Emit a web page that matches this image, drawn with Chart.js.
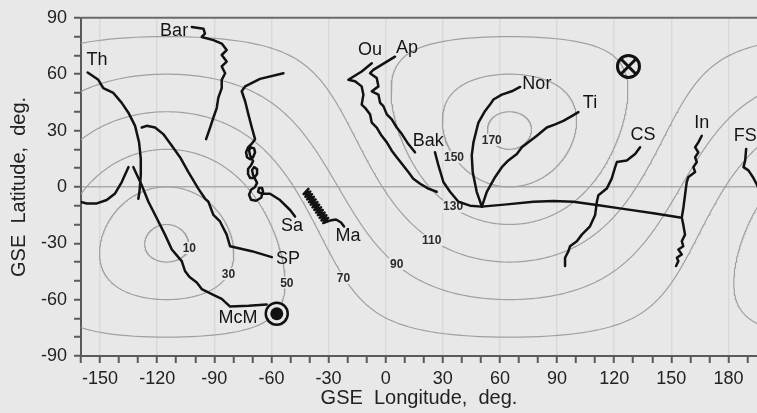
<!DOCTYPE html>
<html>
<head>
<meta charset="utf-8">
<script src="https://cdn.jsdelivr.net/npm/chart.js@4/dist/chart.umd.min.js"></script>
<style>
  html, body { margin: 0; padding: 0; background: #e8e8e8; overflow: hidden; }
  canvas { display: block; }
</style>
</head>
<body>
<canvas id="c" width="757" height="413"></canvas>
<script>
// ---- Angular-distance contours (degrees from the reference direction) ----
const contourCenter = [-115, -30];            // GSE lon, lat
const contourLevels = [10, 30, 50, 70, 90, 110, 130, 150, 170];
const levelLabelLon = [-103.1, -82.6, -51.9, -22.2, 5.8, 24.2, 35.4, 35.9, 55.7];
const levelLabelLat = [-32.5, -46.3, -51.0, -48.4, -41.0, -28.4, -10.5, 15.8, 25.0];

// ---- Station tracks, [lon, lat] in GSE degrees ----
const thTrack = [[-156.5,60.9],[-150.9,57.0],[-148.3,52.6],[-143.0,50.0],[-138.6,44.7],[-135.1,39.5],
  [-131.6,32.5],[-129.5,23.7],[-128.6,14.9],[-128.6,6.2],[-129.3,-2.6],[-129.9,-6.3]];
const westTrack = [[-160.5,-7.9],[-157.0,-8.8],[-151.7,-8.8],[-146.5,-7.0],[-142.1,-3.5],[-138.6,2.6],[-135.1,10.5]];
const mcmTrack = [[-62.5,-62.6],[-72.0,-63.3],[-81.7,-63.7],[-86.1,-59.6],[-90.5,-57.5],[-96.6,-54.4],[-99.2,-50.9],
  [-103.0,-48.0],[-105.4,-44.7],[-107.1,-39.5],[-112.3,-33.3],[-115.9,-25.4],[-120.2,-16.7],[-124.6,-7.9],
  [-128.1,0.9],[-132.5,10.5]];
const spTrack = [[-128.1,31.6],[-125.5,32.5],[-121.1,31.6],[-116.8,28.1],[-112.3,21.9],[-108.0,15.8],[-103.6,7.9],
  [-98.4,-0.9],[-94.9,-6.2],[-93.1,-7.9],[-90.5,-14.9],[-87.0,-18.4],[-83.5,-25.4],[-81.7,-31.6],
  [-70.3,-34.2],[-59.8,-37.4]];
const barTrack = [[-101.8,85.1],[-95.7,84.2],[-94.9,81.6],[-96.6,79.8],[-90.5,78.1],[-86.1,76.3],[-83.5,72.8],
  [-86.1,70.2],[-83.5,66.7],[-86.1,64.1],[-84.3,60.5],[-86.1,57.0],[-86.1,52.6],[-87.9,47.4],[-88.7,42.1],
  [-90.5,36.8],[-92.2,31.6],[-94.3,25.4]];
const saTrack = [[-53.7,60.5],[-66.0,57.5],[-73.8,53.5],[-75.6,50.9],[-73.8,45.6],[-72.1,38.6],[-70.3,31.6],
  [-68.6,25.4],
  [-70.17,23.16],[-72.27,21.05],[-73.32,18.42],[-72.8,15.79],[-71.22,14.74],[-69.64,15.79],[-68.59,18.42],
  [-69.12,20.53],[-70.69,21.05],[-71.75,19.48],[-71.22,16.84],[-69.64,13.69],
  [-70.69,11.58],[-72.27,9.48],[-72.27,6.84],[-71.22,4.74],[-69.12,4.74],[-67.54,6.84],[-67.54,9.48],
  [-69.12,10.53],[-70.17,8.95],[-69.64,6.32],[-67.54,2.11],
  [-68.59,0.0],[-70.69,-1.58],[-71.75,-4.21],[-70.69,-6.84],[-68.07,-7.37],[-65.44,-5.79],[-64.39,-2.63],
  [-64.92,-0.52],[-66.49,-0.52],[-67.02,-2.63],[-64.92,-3.68],[-60.72,-3.68],
  [-55.5,-7.0],[-50.2,-12.3],[-47.6,-15.8]];
const maTrack = [[-40.55,-1.08],[-43.12,-3.83],[-39.61,-2.48],[-42.18,-5.23],[-38.67,-3.88],[-41.24,-6.64],
  [-37.72,-5.29],[-40.3,-8.04],[-36.78,-6.69],[-39.36,-9.44],[-35.84,-8.09],[-38.42,-10.85],[-34.9,-9.5],
  [-37.48,-12.25],[-33.96,-10.9],[-36.54,-13.65],[-33.02,-12.3],[-35.6,-15.06],[-32.08,-13.71],
  [-34.66,-16.46],[-31.14,-15.11],[-33.72,-17.86],[-30.2,-16.51],[-32.78,-19.27],[-29.26,-17.92],
  [-26.05,-17.37],[-23.43,-18.94],[-21.85,-21.05]];
const ouTrack = [[-7.3,65.8],[-12.6,61.4],[-19.6,57.0],[-16.1,56.2],[-12.6,53.5],[-11.7,49.1],[-12.6,43.8],
  [-10.8,42.1],[-8.2,38.6],[-7.3,34.2],[-4.7,31.6],[-2.1,27.2],[0.6,23.7],[3.2,19.3],[5.8,15.8],[8.5,12.3],
  [11.9,7.9],[14.5,4.4],[18.1,1.7],[22.4,-0.9],[26.8,-2.6]];
const apTrack = [[4.9,69.3],[-6.5,62.3],[-8.2,60.5],[-4.7,57.9],[-3.8,53.5],[-7.3,50.9],[-3.8,49.1],[-2.9,44.7],
  [-1.2,43.0],[0.6,38.6],[3.2,35.9],[5.8,31.6],[8.5,28.1],[11.9,22.8],[15.4,18.4]];
const bakTrack = [[25.9,18.4],[27.7,11.4],[30.3,2.6],[33.8,-2.6],[38.2,-7.9],[44.3,-10.0],[50.5,-10.5]];
const norTrack = [[50.5,-10.5],[47.8,-2.6],[45.7,7.9],[45.2,16.7],[46.1,23.7],[47.8,30.7],[48.7,34.2],[52.2,40.4],
  [54.8,43.8],[56.6,46.5],[61.0,49.1],[66.2,50.9],[70.6,53.2]];
const tiTrack = [[50.5,-10.5],[53.1,-2.6],[57.5,5.3],[61.0,10.5],[64.4,14.1],[68.9,17.5],[71.5,21.1],[74.9,23.7],
  [79.4,27.2],[84.6,31.6],[89.0,33.3],[93.3,35.1],[97.7,37.7],[101.2,39.8]];
const linkTrack = [[50.5,-10.5],[63.6,-9.3],[77.6,-7.9],[88.1,-7.5],[98.6,-7.9],[110.9,-9.6],[124.8,-11.7],
  [140.6,-14.0],[154.6,-16.3]];
const csTrack = [[133.6,21.1],[131.0,17.5],[126.6,14.1],[121.4,13.2],[120.5,10.5],[118.7,4.4],[116.1,-0.9],
  [111.7,-4.4],[110.9,-7.9],[110.0,-14.9],[107.3,-21.0],[103.0,-25.4],[100.4,-28.9],[96.8,-31.6],[96.0,-34.2],
  [94.2,-37.7],[94.2,-42.1]];
const inTrack = [[166.0,27.2],[164.2,23.7],[162.5,21.1],[164.2,18.4],[162.5,15.8],[163.4,13.2],[161.6,10.5],
  [162.5,7.9],[159.0,5.3],[158.1,2.6],[157.2,-4.4],[156.3,-11.4],[155.5,-16.3],[156.3,-20.2],[157.2,-25.4],
  [155.5,-28.9],[156.3,-31.6],[153.7,-33.3],[155.5,-35.9],[152.9,-37.7],[153.7,-39.5],[152.5,-42.1]];
const fsTrack = [[189.3,20.2],[188.8,14.1],[187.9,10.5],[190.5,8.8],[192.8,5.3],[195.1,0.9],[196.6,-2.6]];

const tracks = [thTrack, westTrack, mcmTrack, spTrack, barTrack, saTrack, maTrack, ouTrack, apTrack,
  bakTrack, norTrack, tiTrack, linkTrack, csTrack, inTrack, fsTrack];

// ---- Text labels for the stations ----
const trackLabels   = ['Th', 'Bar', 'Ou', 'Ap', 'Bak', 'Nor', 'Ti', 'CS', 'In', 'FS', 'Sa', 'Ma', 'SP', 'McM'];
const trackLabelLon = [-151.6, -111.1, -8.2, 11.2, 22.3, 79.4, 107.3, 135.2, 166.0, 188.8, -49.2, -19.8, -51.3, -77.5];
const trackLabelLat = [67.4, 82.9, 72.9, 73.7, 24.2, 54.5, 44.7, 27.4, 34.2, 27.1, -21.0, -26.3, -38.2, -69.7];

// ---- Point markers ----
const crossMark = [127.5, 64.1];
const dotMark = [-57.2, -67.5];

// ---- Axes ----
const xRange = [-160, 195];
const yRange = [-90, 90];

const BG = '#e8e8e8';
const FONT = "'Liberation Sans', Arial, Helvetica, sans-serif";

// small circle of angular radius r around contourCenter, longitude kept continuous
function smallCircle(r) {
  const d2r = Math.PI / 180;
  const lat0 = contourCenter[1] * d2r;
  const rr = r * d2r;
  const pts = [];
  let prev = null;
  for (let a = 0; a <= 360; a += 1) {
    const t = a * d2r;
    const sinLat = Math.sin(lat0) * Math.cos(rr) + Math.cos(lat0) * Math.sin(rr) * Math.cos(t);
    const lat = Math.asin(Math.max(-1, Math.min(1, sinLat)));
    const dlon = Math.atan2(Math.sin(t) * Math.sin(rr) * Math.cos(lat0),
                            Math.cos(rr) - Math.sin(lat0) * sinLat) / d2r;
    let lon = contourCenter[0] + dlon;
    if (prev !== null) {
      while (lon - prev > 180) lon -= 360;
      while (lon - prev < -180) lon += 360;
    }
    prev = lon;
    pts.push([lon, lat / d2r]);
  }
  return pts;
}

const datasets = [];
tracks.forEach(tr => {
  datasets.push({
    kind: 'track',
    data: tr.map(p => ({ x: p[0], y: p[1] })),
    showLine: true, borderColor: '#121212', borderWidth: 2.5,
    pointRadius: 0, tension: 0, order: 1,
    borderJoinStyle: 'round', borderCapStyle: 'round'
  });
});
contourLevels.forEach(lv => {
  const pts = smallCircle(lv);
  [-360, 0, 360].forEach(shift => {
    datasets.push({
      kind: 'contour',
      data: pts.map(p => ({ x: p[0] + shift, y: p[1] })),
      showLine: true, borderColor: '#a0a0a0', borderWidth: 1.2,
      pointRadius: 0, tension: 0, order: 2
    });
  });
});

let levelLabelsDone = false;

function drawLevelLabels(chart) {
  const c = chart.ctx, xs = chart.scales.x, ys = chart.scales.y;
  c.save();
  c.font = 'bold 12px ' + FONT;
  c.textAlign = 'center';
  c.textBaseline = 'middle';
  contourLevels.forEach((lv, i) => {
    const px = xs.getPixelForValue(levelLabelLon[i]);
    const py = ys.getPixelForValue(levelLabelLat[i]);
    const txt = String(lv);
    const w = c.measureText(txt).width;
    c.fillStyle = BG;
    c.fillRect(px - w / 2 - 1.5, py - 6, w + 3, 12);
    c.fillStyle = '#2a2a2a';
    c.fillText(txt, px, py + 0.5);
  });
  c.restore();
}

const decor = {
  id: 'decor',
  beforeDraw(chart) {
    const c = chart.ctx;
    c.save();
    c.fillStyle = BG;
    c.fillRect(0, 0, chart.width, chart.height);
    c.restore();
    levelLabelsDone = false;
  },
  beforeDatasetsDraw(chart) {
    const c = chart.ctx, a = chart.chartArea;
    c.save();
    c.strokeStyle = '#6a6a6a';
    c.lineWidth = 2;
    c.beginPath();
    c.moveTo(a.left, a.top);
    c.lineTo(a.right, a.top);
    c.stroke();
    c.restore();
  },
  beforeDatasetDraw(chart, args) {
    if (!levelLabelsDone && chart.data.datasets[args.index].kind === 'track') {
      drawLevelLabels(chart);
      levelLabelsDone = true;
    }
  },
  afterDatasetsDraw(chart) {
    const c = chart.ctx, xs = chart.scales.x, ys = chart.scales.y;
    if (!levelLabelsDone) { drawLevelLabels(chart); levelLabelsDone = true; }
    c.save();
    c.font = '18px ' + FONT;
    c.fillStyle = '#151515';
    c.textAlign = 'center';
    c.textBaseline = 'middle';
    trackLabels.forEach((t, i) => {
      c.fillText(t, xs.getPixelForValue(trackLabelLon[i]), ys.getPixelForValue(trackLabelLat[i]));
    });
    // crossed circle
    let px = xs.getPixelForValue(crossMark[0]), py = ys.getPixelForValue(crossMark[1]);
    c.strokeStyle = '#111';
    c.lineWidth = 3;
    c.beginPath(); c.arc(px, py, 11, 0, Math.PI * 2); c.stroke();
    const k = 7.5;
    c.beginPath();
    c.moveTo(px - k, py - k); c.lineTo(px + k, py + k);
    c.moveTo(px + k, py - k); c.lineTo(px - k, py + k);
    c.stroke();
    // ringed dot
    px = xs.getPixelForValue(dotMark[0]); py = ys.getPixelForValue(dotMark[1]);
    c.fillStyle = BG;
    c.beginPath(); c.arc(px, py, 11.5, 0, Math.PI * 2); c.fill();
    c.lineWidth = 2.5;
    c.beginPath(); c.arc(px, py, 11, 0, Math.PI * 2); c.stroke();
    c.fillStyle = '#111';
    c.beginPath(); c.arc(px, py, 6.5, 0, Math.PI * 2); c.fill();
    c.restore();
  }
};

Chart.defaults.font.family = FONT;
Chart.defaults.color = '#222';

new Chart(document.getElementById('c'), {
  type: 'scatter',
  data: { datasets },
  options: {
    responsive: false,
    animation: false,
    events: [],
    layout: { padding: { top: 14, right: 0, bottom: 0, left: 0 } },
    plugins: { legend: { display: false }, tooltip: { enabled: false } },
    scales: {
      x: {
        type: 'linear', min: xRange[0], max: xRange[1],
        ticks: {
          stepSize: 10, includeBounds: false, autoSkip: false, maxRotation: 0,
          callback: v => (v % 30 === 0 ? String(v) : ''),
          font: { size: 18 }, color: '#222', padding: 5
        },
        grid: {
          color: ctx => (ctx.tick && ctx.tick.value % 30 === 0 && ctx.tick.value !== xRange[0] ? '#d9d9d9' : 'rgba(0,0,0,0)'),
          lineWidth: 1.5, tickColor: '#5a5a5a', tickLength: 7, tickWidth: 2
        },
        border: { display: true, color: '#5a5a5a', width: 2 },
        title: { display: true, text: 'GSE  Longitude,  deg.', font: { size: 20 }, color: '#222', padding: { top: 0, bottom: 3 } },
        afterFit: s => { s.height = 57; }
      },
      y: {
        type: 'linear', min: yRange[0], max: yRange[1],
        ticks: {
          stepSize: 10, autoSkip: false,
          callback: v => (v % 30 === 0 ? String(v) : ''),
          font: { size: 18 }, color: '#222', padding: 7
        },
        grid: {
          color: ctx => (ctx.tick && ctx.tick.value === 0 ? '#ababab' : 'rgba(0,0,0,0)'),
          lineWidth: 1.5, tickColor: '#5a5a5a', tickLength: 7, tickWidth: 2
        },
        border: { display: true, color: '#5a5a5a', width: 2 },
        title: { display: true, text: 'GSE  Latitude,  deg.', font: { size: 20 }, color: '#222', padding: { top: 7, bottom: 0 } },
        afterFit: s => { s.width = 81; }
      }
    }
  },
  plugins: [decor]
});
</script>
</body>
</html>
